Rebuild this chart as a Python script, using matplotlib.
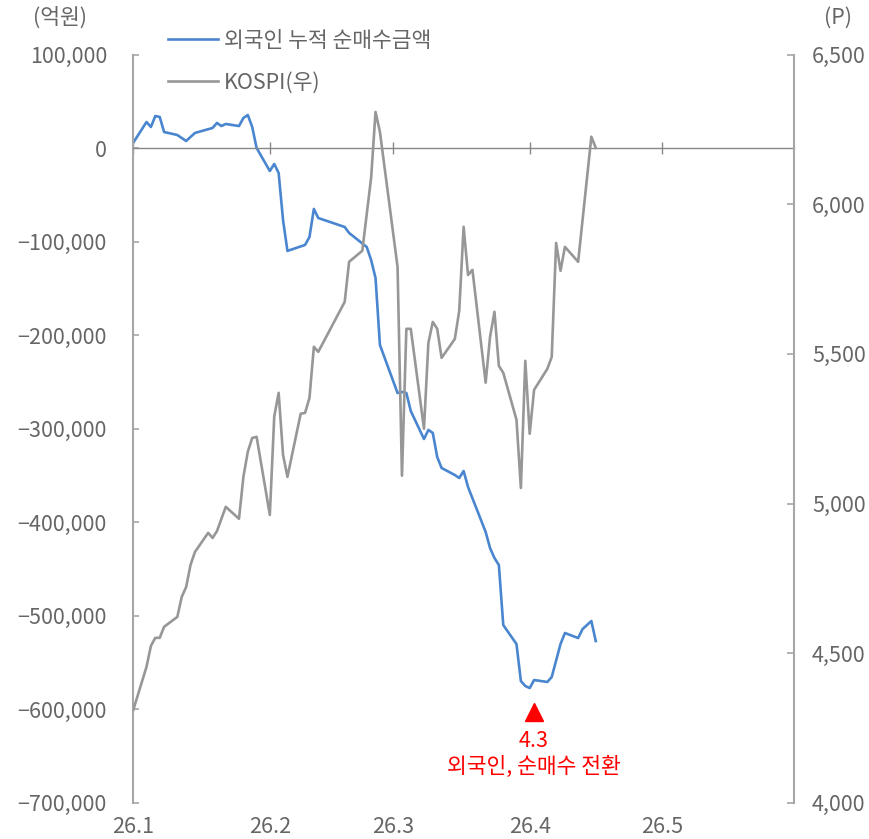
import pandas as pd
import matplotlib
matplotlib.use("Agg")
import matplotlib.pyplot as plt
from matplotlib.ticker import FuncFormatter

plt.rcParams['font.family'] = ['Noto Sans CJK KR', 'DejaVu Sans']

# 외국인 누적 순매수금액 (억원)
flow_days = ["01-02", "01-05", "01-06", "01-07", "01-08", "01-09", "01-12", "01-14",
             "01-16", "01-20", "01-21", "01-22", "01-23", "01-26", "01-27", "01-28",
             "01-29", "01-30", "02-02", "02-03", "02-04", "02-05", "02-06", "02-10",
             "02-11", "02-12", "02-13", "02-19", "02-20", "02-24", "02-25", "02-26",
             "02-27", "03-03", "03-04", "03-05", "03-06", "03-09", "03-10", "03-11",
             "03-12", "03-13", "03-16", "03-17", "03-18", "03-19", "03-23", "03-24",
             "03-25", "03-26", "03-27", "03-30", "03-31", "04-01", "04-02", "04-03",
             "04-06", "04-07", "04-09", "04-10", "04-13", "04-14", "04-16", "04-17"]
flow_values = [6000, 28100, 22800, 34500, 33500, 17400, 14200, 7800,
               16400, 21700, 27100, 23800, 26000, 23800, 32400, 35600,
               22800, 300, -24300, -16800, -26400, -76700, -109800, -103400,
               -94900, -64900, -74600, -84200, -90600, -105600, -119500, -138800,
               -210400, -261800, -260700, -261800, -281000, -311000, -301300, -304500,
               -330200, -342000, -349500, -352700, -345200, -362300, -410400, -427600,
               -438300, -445800, -510000, -530300, -569900, -575200, -577400, -568800,
               -570900, -565600, -530300, -518500, -523900, -514300, -505700, -527100]

# KOSPI 지수 (P)
kospi_days = ["01-02", "01-05", "01-06", "01-07", "01-08", "01-09", "01-12", "01-13",
              "01-14", "01-15", "01-16", "01-19", "01-20", "01-21", "01-23", "01-26",
              "01-27", "01-28", "01-29", "01-30", "02-02", "02-03", "02-04", "02-05",
              "02-06", "02-09", "02-10", "02-11", "02-12", "02-13", "02-19", "02-20",
              "02-23", "02-25", "02-26", "02-27", "03-03", "03-04", "03-05", "03-06",
              "03-09", "03-10", "03-11", "03-12", "03-13", "03-16", "03-17", "03-18",
              "03-19", "03-20", "03-23", "03-24", "03-25", "03-26", "03-27", "03-30",
              "03-31", "04-01", "04-02", "04-03", "04-06", "04-07", "04-08", "04-09",
              "04-10", "04-13", "04-16", "04-17"]
kospi_values = [4310, 4454, 4524, 4551, 4551, 4588, 4621, 4688,
                4721, 4795, 4838, 4902, 4885, 4908, 4989, 4949,
                5089, 5173, 5219, 5223, 4962, 5290, 5370, 5163,
                5089, 5300, 5303, 5353, 5524, 5507, 5674, 5808,
                5845, 6089, 6309, 6242, 5791, 5093, 5584, 5584,
                5250, 5537, 5607, 5584, 5487, 5550, 5644, 5925,
                5764, 5781, 5404, 5557, 5641, 5460, 5437, 5280,
                5052, 5477, 5233, 5380, 5450, 5490, 5871, 5778,
                5858, 5808, 6226, 6189]

month_ticks = ["01-02", "02-02", "03-02", "04-02", "05-02"]
month_labels = ["26.1", "26.2", "26.3", "26.4", "26.5"]

turn_day = "04-03"
turn_level = -603000
turn_text = "4.3\n외국인, 순매수 전환"


def to_dates(days):
    return pd.to_datetime(["2026-" + d for d in days])


BLUE = "#4a86cf"
GRAY = "#979797"
TEXT = "#666666"
AXIS = "#a6a6a6"
FS = 15.5

fig = plt.figure(figsize=(8.7, 8.39), dpi=100)
ax = fig.add_axes([0.1532, 0.0433, 0.7594, 0.8914])
ax2 = ax.twinx()

l1, = ax.plot(to_dates(flow_days), flow_values, color=BLUE, lw=1.9,
              label="외국인 누적 순매수금액")
l2, = ax2.plot(to_dates(kospi_days), kospi_values, color=GRAY, lw=1.9,
               label="KOSPI(우)")

ax.set_xlim(pd.Timestamp("2026-01-02"), pd.Timestamp("2026-06-01"))
ax.set_ylim(-700000, 100000)
ax.set_yticks(range(-700000, 100001, 100000))
ax.yaxis.set_major_formatter(FuncFormatter(lambda v, p: f"{v:,.0f}".replace("-", "\u2212")))
ax2.set_ylim(4000, 6500)
ax2.set_yticks(range(4000, 6501, 500))
ax2.yaxis.set_major_formatter(FuncFormatter(lambda v, p: f"{v:,.0f}"))

# x축은 0 위치에 두고, 날짜 라벨은 아래쪽에 따로 표시
ax.spines["bottom"].set_position(("data", 0))
ax.spines["bottom"].set_color("#888888")
ax.spines["bottom"].set_linewidth(1.0)
ax.set_xticks(to_dates(month_ticks))
ax.set_xticklabels([])
ax.tick_params(axis="x", direction="inout", length=8.6, width=1.0, color="#888888")
for d, lab in zip(to_dates(month_ticks), month_labels):
    ax.text(d, -0.0325, lab, transform=ax.get_xaxis_transform(),
            ha="center", va="center", fontsize=FS, color=TEXT)

for s in ["top", "right"]:
    ax.spines[s].set_visible(False)
for s in ["top", "bottom", "left"]:
    ax2.spines[s].set_visible(False)
ax.spines["left"].set_color(AXIS)
ax.spines["left"].set_linewidth(1.5)
ax2.spines["right"].set_color(AXIS)
ax2.spines["right"].set_linewidth(1.5)

ax.tick_params(axis="y", direction="in", length=4, width=1.2, color=AXIS,
               pad=19, labelsize=FS, labelcolor=TEXT)
ax2.tick_params(axis="y", direction="in", length=5, width=1.2, color=AXIS,
                pad=13, labelsize=FS, labelcolor=TEXT)

# 순매수 전환 시점 표시
turn_date = pd.Timestamp("2026-" + turn_day)
ax.plot([turn_date], [turn_level], marker="^", ms=13, color="#ff0000",
        linestyle="none", clip_on=False)
ax.annotate(turn_text, (turn_date, turn_level), xytext=(0, -13),
            textcoords="offset points", ha="center", va="top",
            fontsize=FS, color="#ff0000", linespacing=1.25)

fig.text(60 / 870, 1 - 18 / 839, "(억원)", ha="center", va="center",
         fontsize=FS, color=TEXT)
fig.text(838 / 870, 1 - 18 / 839, "(P)", ha="center", va="center",
         fontsize=FS, color=TEXT)

leg = ax2.legend(handles=[l1, l2], loc="upper left",
                 bbox_to_anchor=(168 / 870, 1 - 30 / 839),
                 bbox_transform=fig.transFigure, frameon=False,
                 borderpad=0, borderaxespad=0, handlelength=2.3,
                 handletextpad=0.3, labelspacing=0.9, fontsize=FS)
for t in leg.get_texts():
    t.set_color(TEXT)

fig.savefig("out.png", dpi=100)
